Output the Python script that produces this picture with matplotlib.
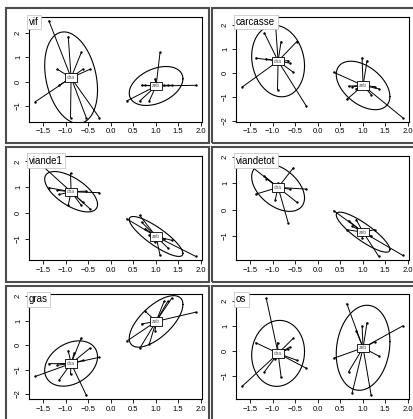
import numpy as np
import matplotlib
matplotlib.use("Agg")
import matplotlib.pyplot as plt
from matplotlib.patches import Rectangle
from matplotlib.ticker import MultipleLocator

plt.rcParams['font.family'] = ['Liberation Sans', 'DejaVu Sans']

W, H = 414, 419

# discriminant score, shared x axis of every panel
x_cha = [-1.67, -1.37, -1.18, -1.14, -0.94, -0.89, -0.81, -0.65, -0.62, -0.54, -0.46, -0.25]
x_zeb = [0.36, 0.65, 0.69, 0.77, 0.86, 0.99, 1.10, 1.19, 1.27, 1.36, 1.89]

# standardised variables, same order as x_cha / x_zeb
vif_cha = [-0.82, 2.48, 0.50, -0.15, 1.83, -1.47, 0.30, 1.19, 0.50, -1.47, 0.50, -1.47]
vif_zeb = [-0.79, -0.79, -0.15, -0.15, -0.79, 0.12, 1.19, -0.15, -0.15, -0.15, -0.15]
carcasse_cha = [-0.58, 0.62, 1.66, 0.58, 2.17, -0.69, 1.31, 0.51, 0.41, 0.03, 1.31, -1.38]
carcasse_zeb = [0.03, -1.10, -0.55, -0.58, -0.66, 0.62, 0.51, -0.90, -0.57, -0.66, -1.86]
viande1_cha = [2.07, 0.98, 0.88, 0.72, 0.30, 1.54, 0.90, 0.30, 0.42, 0.85, 0.17, 0.79]
viande1_zeb = [-0.22, -0.09, -0.35, -0.60, -0.86, -1.12, -1.63, -1.00, -1.34, -1.05, -1.67]
viandetot_cha = [1.90, 0.59, 1.27, 1.18, 0.38, 1.00, 0.90, -0.51, 0.78, 1.58, 0.28, 0.78]
viandetot_zeb = [-0.04, -0.76, -0.42, -0.63, -0.38, -1.08, -0.82, -1.00, -0.76, -1.77, -1.73]
gras_cha = [-1.28, -0.76, -0.82, -1.42, -0.24, -1.18, -0.33, 0.29, -0.63, -2.04, -0.13, -0.50]
gras_zeb = [0.16, -0.13, 0.86, 1.38, 0.03, 0.59, 0.92, 1.78, 1.78, 1.91, 1.34]
os_cha = [-1.40, 0.33, -0.83, 2.11, -0.30, 0.33, -1.04, 0.07, 0.15, 0.51, -0.37, -0.69]
os_zeb = [-0.29, 1.89, -0.83, -1.67, 0.80, 1.00, 1.13, -1.76, 0.36, -0.20, 1.00]

panels = [
    ("vif", vif_cha, vif_zeb),
    ("carcasse", carcasse_cha, carcasse_zeb),
    ("viande1", viande1_cha, viande1_zeb),
    ("viandetot", viandetot_cha, viandetot_zeb),
    ("gras", gras_cha, gras_zeb),
    ("os", os_cha, os_zeb),
]


def draw_group(ax, x, y, label):
    x = np.asarray(x)
    y = np.asarray(y)
    mx, my = x.mean(), y.mean()
    for xi, yi in zip(x, y):
        ax.plot([xi, mx], [yi, my], color="black", lw=0.7, zorder=2)
    ax.scatter(x, y, s=3, color="black", zorder=3, linewidths=0)
    # covariance ellipse, 1.5 standard deviations
    cov = np.cov(x, y, bias=True)
    L = np.linalg.cholesky(cov)
    t = np.linspace(0, 2 * np.pi, 200)
    e = 1.5 * L @ np.vstack([np.cos(t), np.sin(t)])
    ax.plot(e[0] + mx, e[1] + my, color="black", lw=0.8, zorder=2)
    ax.text(mx, my, label, fontsize=3.5, color="#555555", ha="center", va="center", zorder=5,
            bbox=dict(boxstyle="square,pad=0.35", fc="white", ec="black", lw=0.6))


def expand(vals):
    lo, hi = min(vals), max(vals)
    d = (hi - lo) * 0.04
    return lo - d, hi + d


fig = plt.figure(figsize=(W / 100, H / 100), dpi=100)

for i, (name, ycha, yzeb) in enumerate(panels):
    r, c = divmod(i, 2)
    left = 29 + 207 * c
    top = 17 + 138.7 * r
    ax = fig.add_axes([left / W, 1 - (top + 104.5) / H, 173 / W, 104.5 / H])
    draw_group(ax, x_cha, ycha, "cha")
    draw_group(ax, x_zeb, yzeb, "zeb")
    ax.set_xlim(expand(x_cha + x_zeb))
    ax.set_ylim(expand(ycha + yzeb))
    ax.xaxis.set_major_locator(MultipleLocator(0.5))
    ax.yaxis.set_major_locator(MultipleLocator(1))
    ax.tick_params(length=3, width=0.6, labelsize=5.5, pad=2)
    for lab in ax.get_yticklabels():
        lab.set_rotation(90)
        lab.set_va("center")
    for s in ax.spines.values():
        s.set_linewidth(0.8)
    ax.text(0.0, 1.0, name, transform=ax.transAxes, fontsize=7, ha="left", va="top", zorder=10,
            bbox=dict(boxstyle="square,pad=0.25", fc="white", ec="#bbbbbb", lw=0.5))

    # frame around each cell
    fx0 = 6 + 206 * c
    fy0 = 8 + 139 * r
    fig.add_artist(Rectangle((fx0 / W, 1 - (fy0 + 135) / H), 203 / W, 135 / H,
                             transform=fig.transFigure, fill=False, ec="#4d4d4d", lw=1.5))

fig.savefig("out.png", dpi=100)
